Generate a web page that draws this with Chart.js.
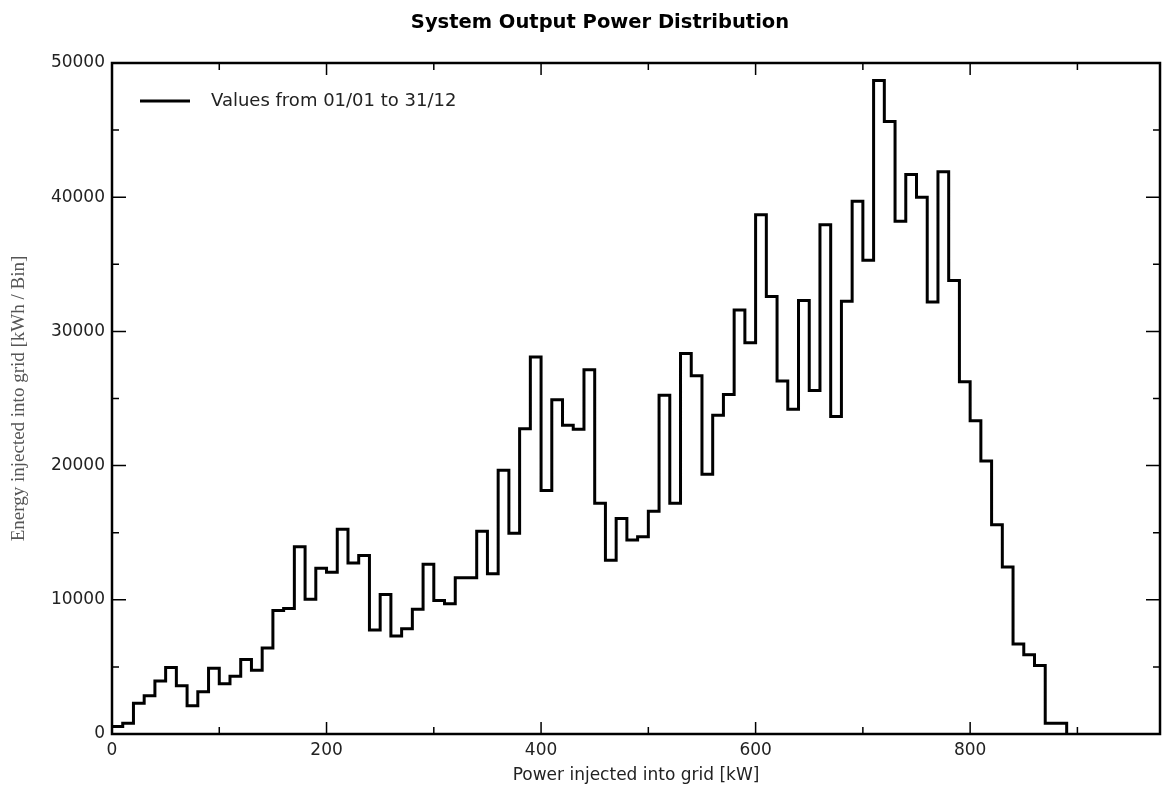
<!DOCTYPE html>
<html>
<head>
<meta charset="utf-8">
<title>System Output Power Distribution</title>
<script src="https://cdn.jsdelivr.net/npm/chart.js@4.4.1/dist/chart.umd.min.js"></script>
<style>
  html, body { margin: 0; padding: 0; background: #ffffff; }
  #wrap { width: 1162px; height: 794px; }
</style>
</head>
<body>
<div id="wrap"><canvas id="chart" width="1162" height="794"></canvas></div>
<script>
// Left edge of each 10 kW power bin
const binStartKW = [
  0, 10, 20, 30, 40, 50, 60, 70, 80, 90,
  100, 110, 120, 130, 140, 150, 160, 170, 180, 190,
  200, 210, 220, 230, 240, 250, 260, 270, 280, 290,
  300, 310, 320, 330, 340, 350, 360, 370, 380, 390,
  400, 410, 420, 430, 440, 450, 460, 470, 480, 490,
  500, 510, 520, 530, 540, 550, 560, 570, 580, 590,
  600, 610, 620, 630, 640, 650, 660, 670, 680, 690,
  700, 710, 720, 730, 740, 750, 760, 770, 780, 790,
  800, 810, 820, 830, 840, 850, 860, 870, 880
];
const binWidthKW = 10;

// Energy injected into grid per bin [kWh]
const energyKWh = [
  550, 800, 2300, 2850, 3950, 4950, 3600, 2100, 3150, 4900,
  3750, 4300, 5550, 4750, 6400, 9200, 9350, 13950, 10050, 12350,
  12050, 15250, 12750, 13300, 7750, 10400, 7300, 7850, 9300, 12650,
  9950, 9700, 11650, 11650, 15100, 11950, 19650, 14950, 22750, 28100,
  18150, 24900, 23000, 22700, 27150, 17200, 12950, 16050, 14450, 14700,
  16600, 25250, 17200, 28350, 26700, 19350, 23750, 25300, 31600, 29150,
  38700, 32600, 26300, 24200, 32300, 25600, 37950, 23650, 32250, 39700,
  35300, 48700, 45650, 38200, 41700, 40000, 32200, 41900, 33800, 26250,
  23350, 20350, 15600, 12450, 6700, 5900, 5100, 800, 800
];

const xTicksKW = [0, 200, 400, 600, 800];
const yTicksKWh = [0, 10000, 20000, 30000, 40000, 50000];

const chartTitle = 'System Output Power Distribution';
const seriesLabel = 'Values from 01/01 to 31/12';
const xAxisTitle = 'Power injected into grid [kW]';
const yAxisTitle = 'Energy injected into grid [kWh / Bin]';

// Step outline: each point marks a bin's left edge, closed at the last bin's right edge
const stepPoints = binStartKW.map((x, i) => ({ x: x, y: energyKWh[i] }));
stepPoints.push({ x: binStartKW[binStartKW.length - 1] + binWidthKW, y: 0 });

Chart.defaults.font.family = '"DejaVu Sans", sans-serif';
Chart.defaults.color = '#222222';

// Title drawn above the plot frame
const titlePlugin = {
  id: 'plotTitle',
  afterDraw(chart) {
    const ctx = chart.ctx;
    ctx.save();
    ctx.font = 'bold 19.5px "DejaVu Sans", sans-serif';
    ctx.fillStyle = '#000000';
    ctx.textAlign = 'center';
    ctx.textBaseline = 'middle';
    ctx.fillText(chartTitle, 600, 23);
    ctx.restore();
  }
};

// Closed frame with inward tick marks on all four sides, plus the inset legend
const framePlugin = {
  id: 'plotFrame',
  afterDatasetsDraw(chart) {
    const { ctx, chartArea: a, scales } = chart;
    const xs = scales.x, ys = scales.y;
    ctx.save();
    ctx.strokeStyle = '#000000';
    ctx.lineWidth = 1.5;
    xs.ticks.forEach(t => {
      const px = xs.getPixelForValue(t.value);
      const len = (t.value % 200 === 0) ? 12 : 7;
      ctx.beginPath();
      ctx.moveTo(px, a.bottom); ctx.lineTo(px, a.bottom - len);
      ctx.moveTo(px, a.top); ctx.lineTo(px, a.top + len);
      ctx.stroke();
    });
    ys.ticks.forEach(t => {
      const py = ys.getPixelForValue(t.value);
      const len = (t.value % 10000 === 0) ? 14 : 7;
      ctx.beginPath();
      ctx.moveTo(a.left, py); ctx.lineTo(a.left + len, py);
      ctx.moveTo(a.right, py); ctx.lineTo(a.right - len, py);
      ctx.stroke();
    });
    ctx.lineWidth = 2.5;
    ctx.strokeRect(a.left, a.top, a.right - a.left, a.bottom - a.top);

    // legend entry
    const ly = a.top + 38;
    ctx.lineWidth = 3;
    ctx.beginPath();
    ctx.moveTo(a.left + 28, ly);
    ctx.lineTo(a.left + 78, ly);
    ctx.stroke();
    ctx.font = '18px "DejaVu Sans", sans-serif';
    ctx.fillStyle = '#222222';
    ctx.textAlign = 'left';
    ctx.textBaseline = 'middle';
    ctx.fillText(seriesLabel, a.left + 99, ly);
    ctx.restore();
  }
};

new Chart(document.getElementById('chart'), {
  type: 'line',
  data: {
    datasets: [{
      label: seriesLabel,
      data: stepPoints,
      stepped: 'before',
      borderColor: '#000000',
      borderWidth: 3,
      borderJoinStyle: 'miter',
      pointRadius: 0,
      fill: false,
      tension: 0
    }]
  },
  options: {
    responsive: false,
    animation: false,
    devicePixelRatio: 1,
    layout: { padding: { top: 63, right: 2, left: 0, bottom: 0 } },
    plugins: {
      legend: { display: false },
      title: { display: false },
      tooltip: { enabled: false }
    },
    scales: {
      x: {
        type: 'linear',
        min: 0,
        max: 977,
        afterFit(scale) { scale.height = 60; },
        grid: { display: true, drawOnChartArea: false, drawTicks: false },
        border: { display: false },
        ticks: {
          stepSize: 100,
          includeBounds: false,
          autoSkip: false,
          maxRotation: 0,
          padding: 6,
          color: '#222222',
          font: { size: 17 },
          callback: v => (xTicksKW.includes(v) ? String(v) : '')
        },
        title: {
          display: true,
          text: xAxisTitle,
          color: '#222222',
          font: { size: 17 },
          padding: { top: 0, bottom: 8 }
        }
      },
      y: {
        type: 'linear',
        min: 0,
        max: 50000,
        afterFit(scale) { scale.width = 112; },
        grid: { display: true, drawOnChartArea: false, drawTicks: false },
        border: { display: false },
        ticks: {
          stepSize: 5000,
          autoSkip: false,
          padding: 7,
          color: '#222222',
          font: { size: 17 },
          callback: v => (yTicksKWh.includes(v) ? String(v) : '')
        },
        title: {
          display: true,
          text: yAxisTitle,
          color: '#555555',
          font: { family: '"Liberation Serif", "Times New Roman", serif', size: 19 },
          padding: { top: 8, bottom: 0 }
        }
      }
    }
  },
  plugins: [titlePlugin, framePlugin]
});
</script>
</body>
</html>
